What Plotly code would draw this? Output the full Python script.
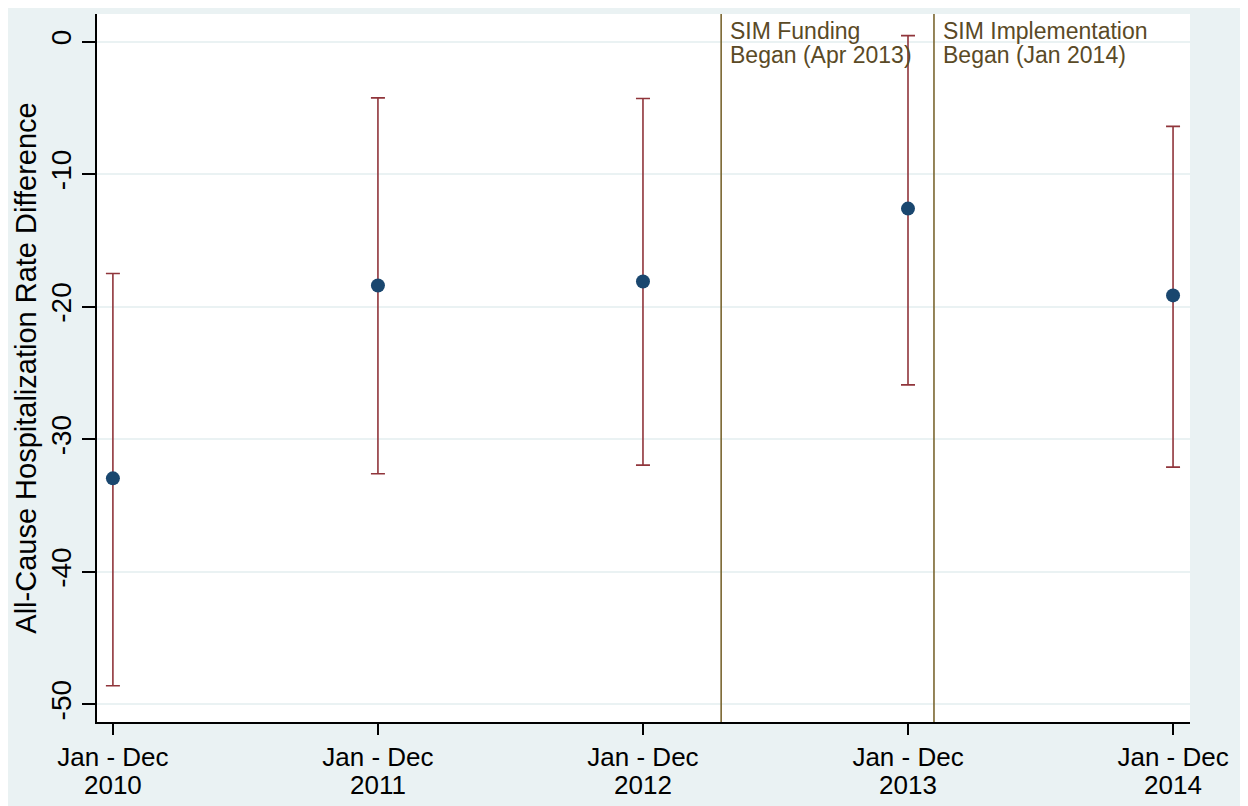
import plotly.graph_objects as go

# Data
years = [2010, 2011, 2012, 2013, 2014]
tick_line1 = ["Jan - Dec"] * 5
tick_line2 = ["2010", "2011", "2012", "2013", "2014"]
estimate = [-32.95, -18.4, -18.1, -12.6, -19.15]
ci_upper = [-17.5, -4.25, -4.3, 0.45, -6.4]
ci_lower = [-48.6, -32.6, -31.95, -25.9, -32.1]
event_x = [2012.295, 2013.098]
event_line1 = ["SIM Funding", "SIM Implementation"]
event_line2 = ["Began (Apr 2013)", "Began (Jan 2014)"]
y_ticks = [0, -10, -20, -30, -40, -50]

err_plus = [u - e for u, e in zip(ci_upper, estimate)]
err_minus = [e - l for e, l in zip(estimate, ci_lower)]

FONT = "Liberation Sans, Arial, sans-serif"
BG = "#EAF2F3"
XR = [2009.94, 2014.064]

fig = go.Figure()
fig.add_trace(go.Scatter(
    x=years, y=estimate, mode="markers",
    marker=dict(color="#1A476F", size=14, symbol="circle"),
    error_y=dict(type="data", symmetric=False, array=err_plus, arrayminus=err_minus,
                 color="#90353B", thickness=1.6, width=7),
    showlegend=False,
))
# invisible trace to activate second x axis (year labels)
fig.add_trace(go.Scatter(x=years, y=estimate, xaxis="x2", mode="markers",
                         marker=dict(opacity=0), hoverinfo="skip", showlegend=False))

shapes = []
for xv in event_x:
    shapes.append(dict(type="line", xref="x", yref="paper", x0=xv, x1=xv, y0=0, y1=1,
                       line=dict(color="#7A6630", width=1.6), layer="above"))

annotations = []
for xv, t1, t2 in zip(event_x, event_line1, event_line2):
    for t, ys in ((t1, 0), (t2, -24)):
        annotations.append(dict(x=xv, xref="x", y=1, yref="paper", text=t, showarrow=False,
                                xanchor="left", yanchor="top", align="left", xshift=7,
                                yshift=ys - 2,
                                font=dict(family=FONT, size=23, color="#5A4A26")))

fig.update_layout(
    width=1232, height=798,
    margin=dict(l=89, r=50, t=6, b=80),
    paper_bgcolor=BG, plot_bgcolor="white",
    font=dict(family=FONT, size=26, color="black"),
    shapes=shapes, annotations=annotations,
    xaxis=dict(range=XR, tickvals=years, ticktext=tick_line1,
               showgrid=False, zeroline=False, showline=True, linecolor="black", linewidth=1.6,
               ticks="outside", ticklen=11, tickwidth=1.6, tickcolor="black",
               ticklabelstandoff=0,
               tickfont=dict(size=26, family=FONT, color="black")),
    xaxis2=dict(range=XR, tickvals=years, ticktext=tick_line2, overlaying="x", side="bottom",
                anchor="y", showgrid=False, zeroline=False, showline=False, ticks="",
                ticklabelstandoff=45,
                tickfont=dict(size=26, family=FONT, color="black")),
    yaxis=dict(range=[-51.33, 2.08], tickvals=y_ticks, ticktext=[str(v) for v in y_ticks],
               showgrid=True, gridcolor=BG, gridwidth=1.5, zeroline=False,
               showline=True, linecolor="black", linewidth=1.6,
               ticks="outside", ticklen=13, tickwidth=1.6, tickcolor="black", tickangle=-90,
               tickfont=dict(size=28, family=FONT, color="black"),
               title=dict(text="All-Cause Hospitalization Rate Difference",
                          font=dict(size=29, family=FONT, color="black"), standoff=1)),
)

fig.write_html("out.html")
